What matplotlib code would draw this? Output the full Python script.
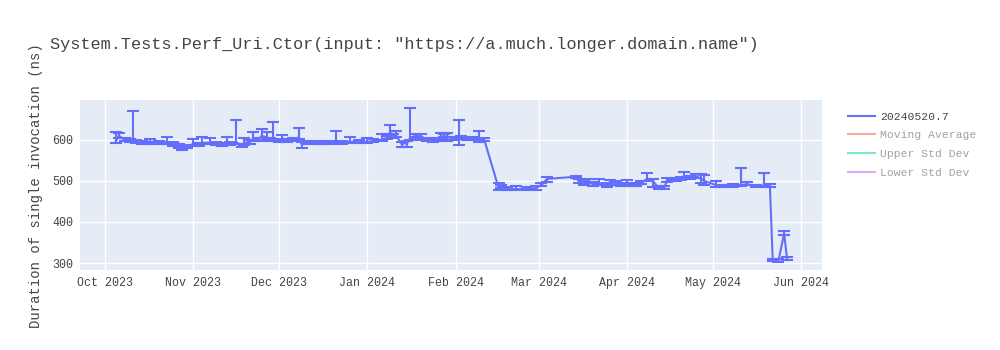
import matplotlib
matplotlib.use("Agg")
import matplotlib.pyplot as plt
import matplotlib.dates as mdates
from matplotlib.lines import Line2D
import pandas as pd

dates = ["2023-10-05", "2023-10-06", "2023-10-08", "2023-10-10", "2023-10-11", "2023-10-12",
         "2023-10-14", "2023-10-16", "2023-10-17", "2023-10-20", "2023-10-22", "2023-10-23",
         "2023-10-25", "2023-10-27", "2023-10-28", "2023-10-30", "2023-11-01", "2023-11-03",
         "2023-11-04", "2023-11-07", "2023-11-09", "2023-11-11", "2023-11-13", "2023-11-14",
         "2023-11-16", "2023-11-18", "2023-11-19", "2023-11-21", "2023-11-22", "2023-11-24",
         "2023-11-25", "2023-11-27", "2023-11-28", "2023-11-29", "2023-12-01", "2023-12-02",
         "2023-12-04", "2023-12-06", "2023-12-08", "2023-12-09", "2023-12-11", "2023-12-14",
         "2023-12-16", "2023-12-19", "2023-12-21", "2023-12-23", "2023-12-26", "2023-12-29",
         "2024-01-01", "2024-01-03", "2024-01-06", "2024-01-08", "2024-01-09", "2024-01-10",
         "2024-01-11", "2024-01-13", "2024-01-15", "2024-01-16", "2024-01-18", "2024-01-20",
         "2024-01-22", "2024-01-24", "2024-01-26", "2024-01-27", "2024-01-28", "2024-01-29",
         "2024-01-31", "2024-02-02", "2024-02-03", "2024-02-05", "2024-02-07", "2024-02-09",
         "2024-02-11", "2024-02-16", "2024-02-17", "2024-02-19", "2024-02-22", "2024-02-26",
         "2024-02-29", "2024-03-02", "2024-03-04", "2024-03-14", "2024-03-15", "2024-03-17",
         "2024-03-18", "2024-03-20", "2024-03-22", "2024-03-25", "2024-03-26", "2024-03-28",
         "2024-03-30", "2024-04-01", "2024-04-03", "2024-04-04", "2024-04-06", "2024-04-08",
         "2024-04-10", "2024-04-12", "2024-04-14", "2024-04-15", "2024-04-18", "2024-04-20",
         "2024-04-21", "2024-04-23", "2024-04-25", "2024-04-27", "2024-04-28", "2024-05-02",
         "2024-05-05", "2024-05-08", "2024-05-11", "2024-05-13", "2024-05-16", "2024-05-19",
         "2024-05-21", "2024-05-22", "2024-05-24", "2024-05-26", "2024-05-27"]

durations = [597, 610, 600, 598, 600, 596,
             593, 592, 595, 593, 592, 593,
             590, 585, 580, 583, 590, 588,
             593, 593, 590, 588, 596, 590,
             595, 586, 592, 595, 603, 600,
             610, 605, 600, 600, 598, 600,
             598, 600, 606, 590, 592, 593,
             594, 594, 595, 594, 595, 596,
             595, 597, 600, 605, 618, 610,
             612, 590, 592, 605, 610, 608,
             600, 597, 600, 605, 610, 600,
             603, 603, 605, 603, 602, 602,
             600, 483, 487, 480, 480, 480,
             482, 490, 505, 510, 500, 495,
             500, 492, 495, 490, 496, 495,
             490, 492, 490, 490, 495, 505,
             500, 483, 483, 502, 503, 505,
             510, 508, 512, 505, 500, 490,
             487, 488, 490, 492, 487, 488,
             488, 307, 306, 372, 310]

err_plus = [21, 7, 5, 4, 70, 4,
            4, 3, 8, 4, 3, 13,
            4, 4, 4, 4, 13, 5,
            14, 12, 4, 4, 10, 4,
            54, 4, 13, 5, 17, 5,
            17, 14, 5, 44, 5, 12,
            4, 5, 22, 5, 4, 4,
            4, 4, 27, 4, 11, 4,
            10, 4, 14, 5, 18, 5,
            10, 5, 5, 73, 5, 7,
            5, 4, 5, 12, 5, 17,
            5, 46, 5, 4, 4, 20,
            4, 12, 4, 4, 8, 4,
            6, 4, 4, 3, 5, 6,
            5, 6, 10, 5, 5, 5,
            4, 10, 4, 4, 4, 14,
            5, 4, 4, 4, 4, 4,
            12, 5, 6, 12, 15, 10,
            4, 4, 42, 5, 4, 32,
            4, 3, 3, 6, 4]

err_minus = [4, 6, 4, 3, 4, 3,
             3, 3, 3, 3, 3, 3,
             4, 4, 4, 3, 4, 3,
             4, 4, 3, 3, 4, 3,
             4, 4, 4, 4, 5, 4,
             5, 5, 4, 4, 4, 4,
             3, 3, 5, 10, 3, 3,
             3, 3, 3, 3, 3, 3,
             3, 3, 4, 4, 5, 5,
             5, 7, 9, 5, 5, 8,
             4, 3, 4, 4, 4, 4,
             4, 16, 4, 3, 3, 7,
             3, 5, 5, 3, 3, 3,
             3, 3, 7, 3, 4, 5,
             5, 5, 6, 4, 5, 4,
             3, 4, 3, 3, 3, 5,
             15, 3, 3, 4, 3, 3,
             5, 4, 6, 10, 10, 4,
             3, 3, 3, 3, 3, 3,
             3, 3, 3, 4, 3]

series_name = "20240520.7"
legend_labels = ["Moving Average", "Upper Std Dev", "Lower Std Dev"]
legend_colors = ["#EF553B", "#00CC96", "#AB63FA"]
y_ticks = [300, 400, 500, 600]
title = 'System.Tests.Perf_Uri.Ctor(input: "https://a.much.longer.domain.name")'
y_label = "Duration of single invocation (ns)"

FONT = "Liberation Mono"
TXT = "#444444"
LINE = "#636EFA"

x = pd.to_datetime(dates)

fig = plt.figure(figsize=(10, 3.5), dpi=100)
ax = fig.add_axes([0.08, 1 - 270 / 350, 0.742, 170 / 350])
ax.set_facecolor("#E5ECF6")
for s in ax.spines.values():
    s.set_visible(False)

ax.errorbar(x, durations, yerr=[err_minus, err_plus], color=LINE, lw=1.5,
            elinewidth=1.5, capsize=4.5, capthick=1.5, ecolor=LINE, zorder=3)

ax.set_xlim(pd.Timestamp("2023-09-22 10:00"), pd.Timestamp("2024-06-08 06:00"))
ax.set_ylim(283, 697)
ax.set_yticks(y_ticks)
ax.xaxis.set_major_locator(mdates.MonthLocator())
ax.xaxis.set_major_formatter(mdates.DateFormatter("%b %Y"))
ax.grid(True, color="white", lw=1.0)
ax.set_axisbelow(True)
ax.tick_params(length=0, labelsize=8.4, labelcolor=TXT, pad=5)
for lab in ax.get_xticklabels() + ax.get_yticklabels():
    lab.set_fontfamily(FONT)

fig.text(0.05, 1 - 45 / 350, title, fontsize=12.2, color=TXT, family=FONT,
         ha="left", va="center")
fig.text(0.036, 1 - 186 / 350, y_label, fontsize=10.0, color=TXT, family=FONT,
         rotation=90, ha="center", va="center")

handles = [Line2D([0], [0], color=LINE, lw=1.5)]
for c in legend_colors:
    handles.append(Line2D([0], [0], color=c, lw=1.5, alpha=0.5))
leg = fig.legend(handles, [series_name] + legend_labels, loc="upper left",
                 bbox_to_anchor=(0.843, 1 - 107 / 350), frameon=False,
                 prop={"family": FONT, "size": 8.2}, handlelength=2.4,
                 handletextpad=0.45, labelspacing=0.77, borderaxespad=0)
for i, t in enumerate(leg.get_texts()):
    t.set_color(TXT)
    if i > 0:
        t.set_alpha(0.5)

fig.savefig("out.png", dpi=100)
